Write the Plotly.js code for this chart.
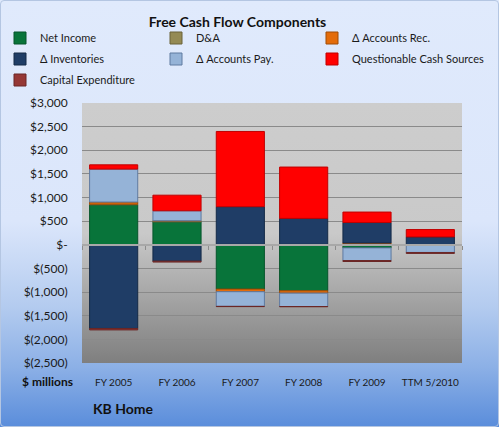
<!DOCTYPE html>
<html>
<head>
<meta charset="utf-8">
<script src="https://cdn.plot.ly/plotly-3.0.1.min.js"></script>
<style>
  html, body { margin: 0; padding: 0; }
  #wrap { position: relative; width: 499px; height: 427px; overflow: hidden;
    background: linear-gradient(to bottom, #e0eafc 0%, #dbe6fb 52%, #b3cbef 72%, #8cb0e6 86%, #5a8ddb 100%); }
  #frame { position: absolute; left: 0; top: 0; width: 499px; height: 427px; box-sizing: border-box;
    border: 1px solid #b4c6e2; border-radius: 4px; pointer-events: none; }
  #plotbg { position: absolute; left: 82px; top: 103px; width: 380px; height: 260px;
    background: linear-gradient(to bottom, #cdcdcd 0%, #c9c9c9 50%, #a9a9a9 72%, #7f7f7f 100%); }
  #chart { position: absolute; left: 0; top: 0; width: 499px; height: 427px; }
</style>
</head>
<body>
<div id="wrap">
  <div id="plotbg"></div>
  <div id="frame"></div>
  <div id="chart"></div>
</div>
<script>
const categories = ['FY 2005', 'FY 2006', 'FY 2007', 'FY 2008', 'FY 2009', 'TTM 5/2010'];
const netIncome = [845, 485, -937, -972, -65, -12];
const depreciation = [15, 25, 10, 10, 8, 5];
const accountsRec = [45, 0, -55, -50, 30, 0];
const inventories = [-1770, -345, 797, 550, 435, 163];
const accountsPay = [697, 210, -310, -283, -268, -150];
const questionable = [90, 330, 1591, 1085, 220, 155];
const capex = [-30, -20, -5, -5, -20, -20];

const seriesNames = ['Net Income', 'D&A', '\u0394 Accounts Rec.', '\u0394 Inventories', '\u0394 Accounts Pay.', 'Questionable Cash Sources', 'Capital Expenditure'];
const seriesValues = [netIncome, depreciation, accountsRec, inventories, accountsPay, questionable, capex];
const fillColors = ['#08743a', '#948a54', '#e46c0a', '#1f3d66', '#95b3d7', '#ff0000', '#953735'];
const edgeColors = ['#05552b', '#6b6339', '#a04c06', '#142a47', '#5f7aa0', '#c00000', '#6b2726'];

const yTickVals = [3000, 2500, 2000, 1500, 1000, 500, 0, -500, -1000, -1500, -2000, -2500];
const yTickText = ['$3,000', '$2,500', '$2,000', '$1,500', '$1,000', '$500', '$-', '$(500)', '$(1,000)', '$(1,500)', '$(2,000)', '$(2,500)'];
const yRange = [-2500, 3000];
const boundaryTicks = [-0.5, 0.5, 1.5, 2.5, 3.5, 4.5, 5.5];

const W = 499, H = 427, L = 82, R = 37, T = 103, B = 64;
const PW = W - L - R, PH = H - T - B;
const px = x => (x - L) / PW;
const py = y => (H - B - y) / PH;

const FONT = 'Lato, "Liberation Sans", sans-serif';

// legend slot positions (pixel left edge of each legend box, row centre)
const legendCols = [0, 156, 312];
const legendRows = [38, 59, 80];

const traces = seriesNames.map((name, i) => ({
  type: 'bar',
  name: name,
  x: categories,
  y: seriesValues[i],
  legend: i === 0 ? 'legend' : 'legend' + (i + 1),
  marker: { color: fillColors[i], line: { color: edgeColors[i], width: 1 } },
  hoverinfo: 'name+y'
}));

traces.push({
  type: 'scatter', x: [], y: [], xaxis: 'x2', yaxis: 'y',
  showlegend: false, hoverinfo: 'skip'
});

const layout = {
  width: W, height: H,
  margin: { l: L, r: R, t: T, b: B, pad: 0, autoexpand: false },
  paper_bgcolor: 'rgba(0,0,0,0)',
  plot_bgcolor: 'rgba(0,0,0,0)',
  barmode: 'relative',
  bargap: 0.24,
  font: { family: FONT, color: '#1a1a1a', size: 11 },
  title: {
    text: '<b>Free Cash Flow Components</b>',
    font: { family: FONT, size: 14, color: '#111' },
    xref: 'container', yref: 'container',
    x: 0.476, xanchor: 'center', y: 1 - 22 / H, yanchor: 'middle'
  },
  showlegend: true,
  xaxis: {
    type: 'category',
    showgrid: false, zeroline: false, showline: false,
    ticks: 'outside', ticklen: 10, tickcolor: 'rgba(0,0,0,0)',
    tickfont: { family: FONT, size: 10, color: '#1a1a1a' },
    fixedrange: true
  },
  xaxis2: {
    overlaying: 'x', anchor: 'free',
    position: (0 - yRange[0]) / (yRange[1] - yRange[0]),
    range: [-0.5, 5.5],
    tickvals: boundaryTicks, ticks: 'outside', ticklen: 4, tickcolor: '#8c8c8c',
    showticklabels: false, showgrid: false, zeroline: false,
    showline: true, linecolor: '#a8a8a8', linewidth: 2,
    layer: 'above traces', fixedrange: true
  },
  yaxis: {
    range: yRange,
    tickvals: yTickVals, ticktext: yTickText,
    showgrid: true, gridcolor: '#8a8a8a', gridwidth: 1,
    zeroline: false, showline: false,
    ticks: 'outside', ticklen: 11, tickcolor: 'rgba(0,0,0,0)',
    tickfont: { family: FONT, size: 12, color: '#1a1a1a' },
    fixedrange: true
  },
  annotations: [
    { text: '<b>$ millions</b>', xref: 'paper', yref: 'paper', x: px(47), y: py(381),
      xanchor: 'center', yanchor: 'middle', showarrow: false,
      font: { family: FONT, size: 12, color: '#111' } },
    { text: '<b>KB Home</b>', xref: 'paper', yref: 'paper', x: px(123), y: py(408),
      xanchor: 'center', yanchor: 'middle', showarrow: false,
      font: { family: FONT, size: 14, color: '#111' } }
  ]
};

seriesNames.forEach((name, i) => {
  const key = i === 0 ? 'legend' : 'legend' + (i + 1);
  layout[key] = {
    xref: 'container', yref: 'container',
    x: legendCols[i % 3] / W, xanchor: 'left',
    y: 1 - legendRows[Math.floor(i / 3)] / H, yanchor: 'middle',
    orientation: 'v',
    font: { family: FONT, size: 11, color: '#1a1a1a' },
    bgcolor: 'rgba(0,0,0,0)', itemwidth: 30, borderwidth: 0
  };
});

Plotly.newPlot('chart', traces, layout, { displayModeBar: false, staticPlot: true });
</script>
</body>
</html>
